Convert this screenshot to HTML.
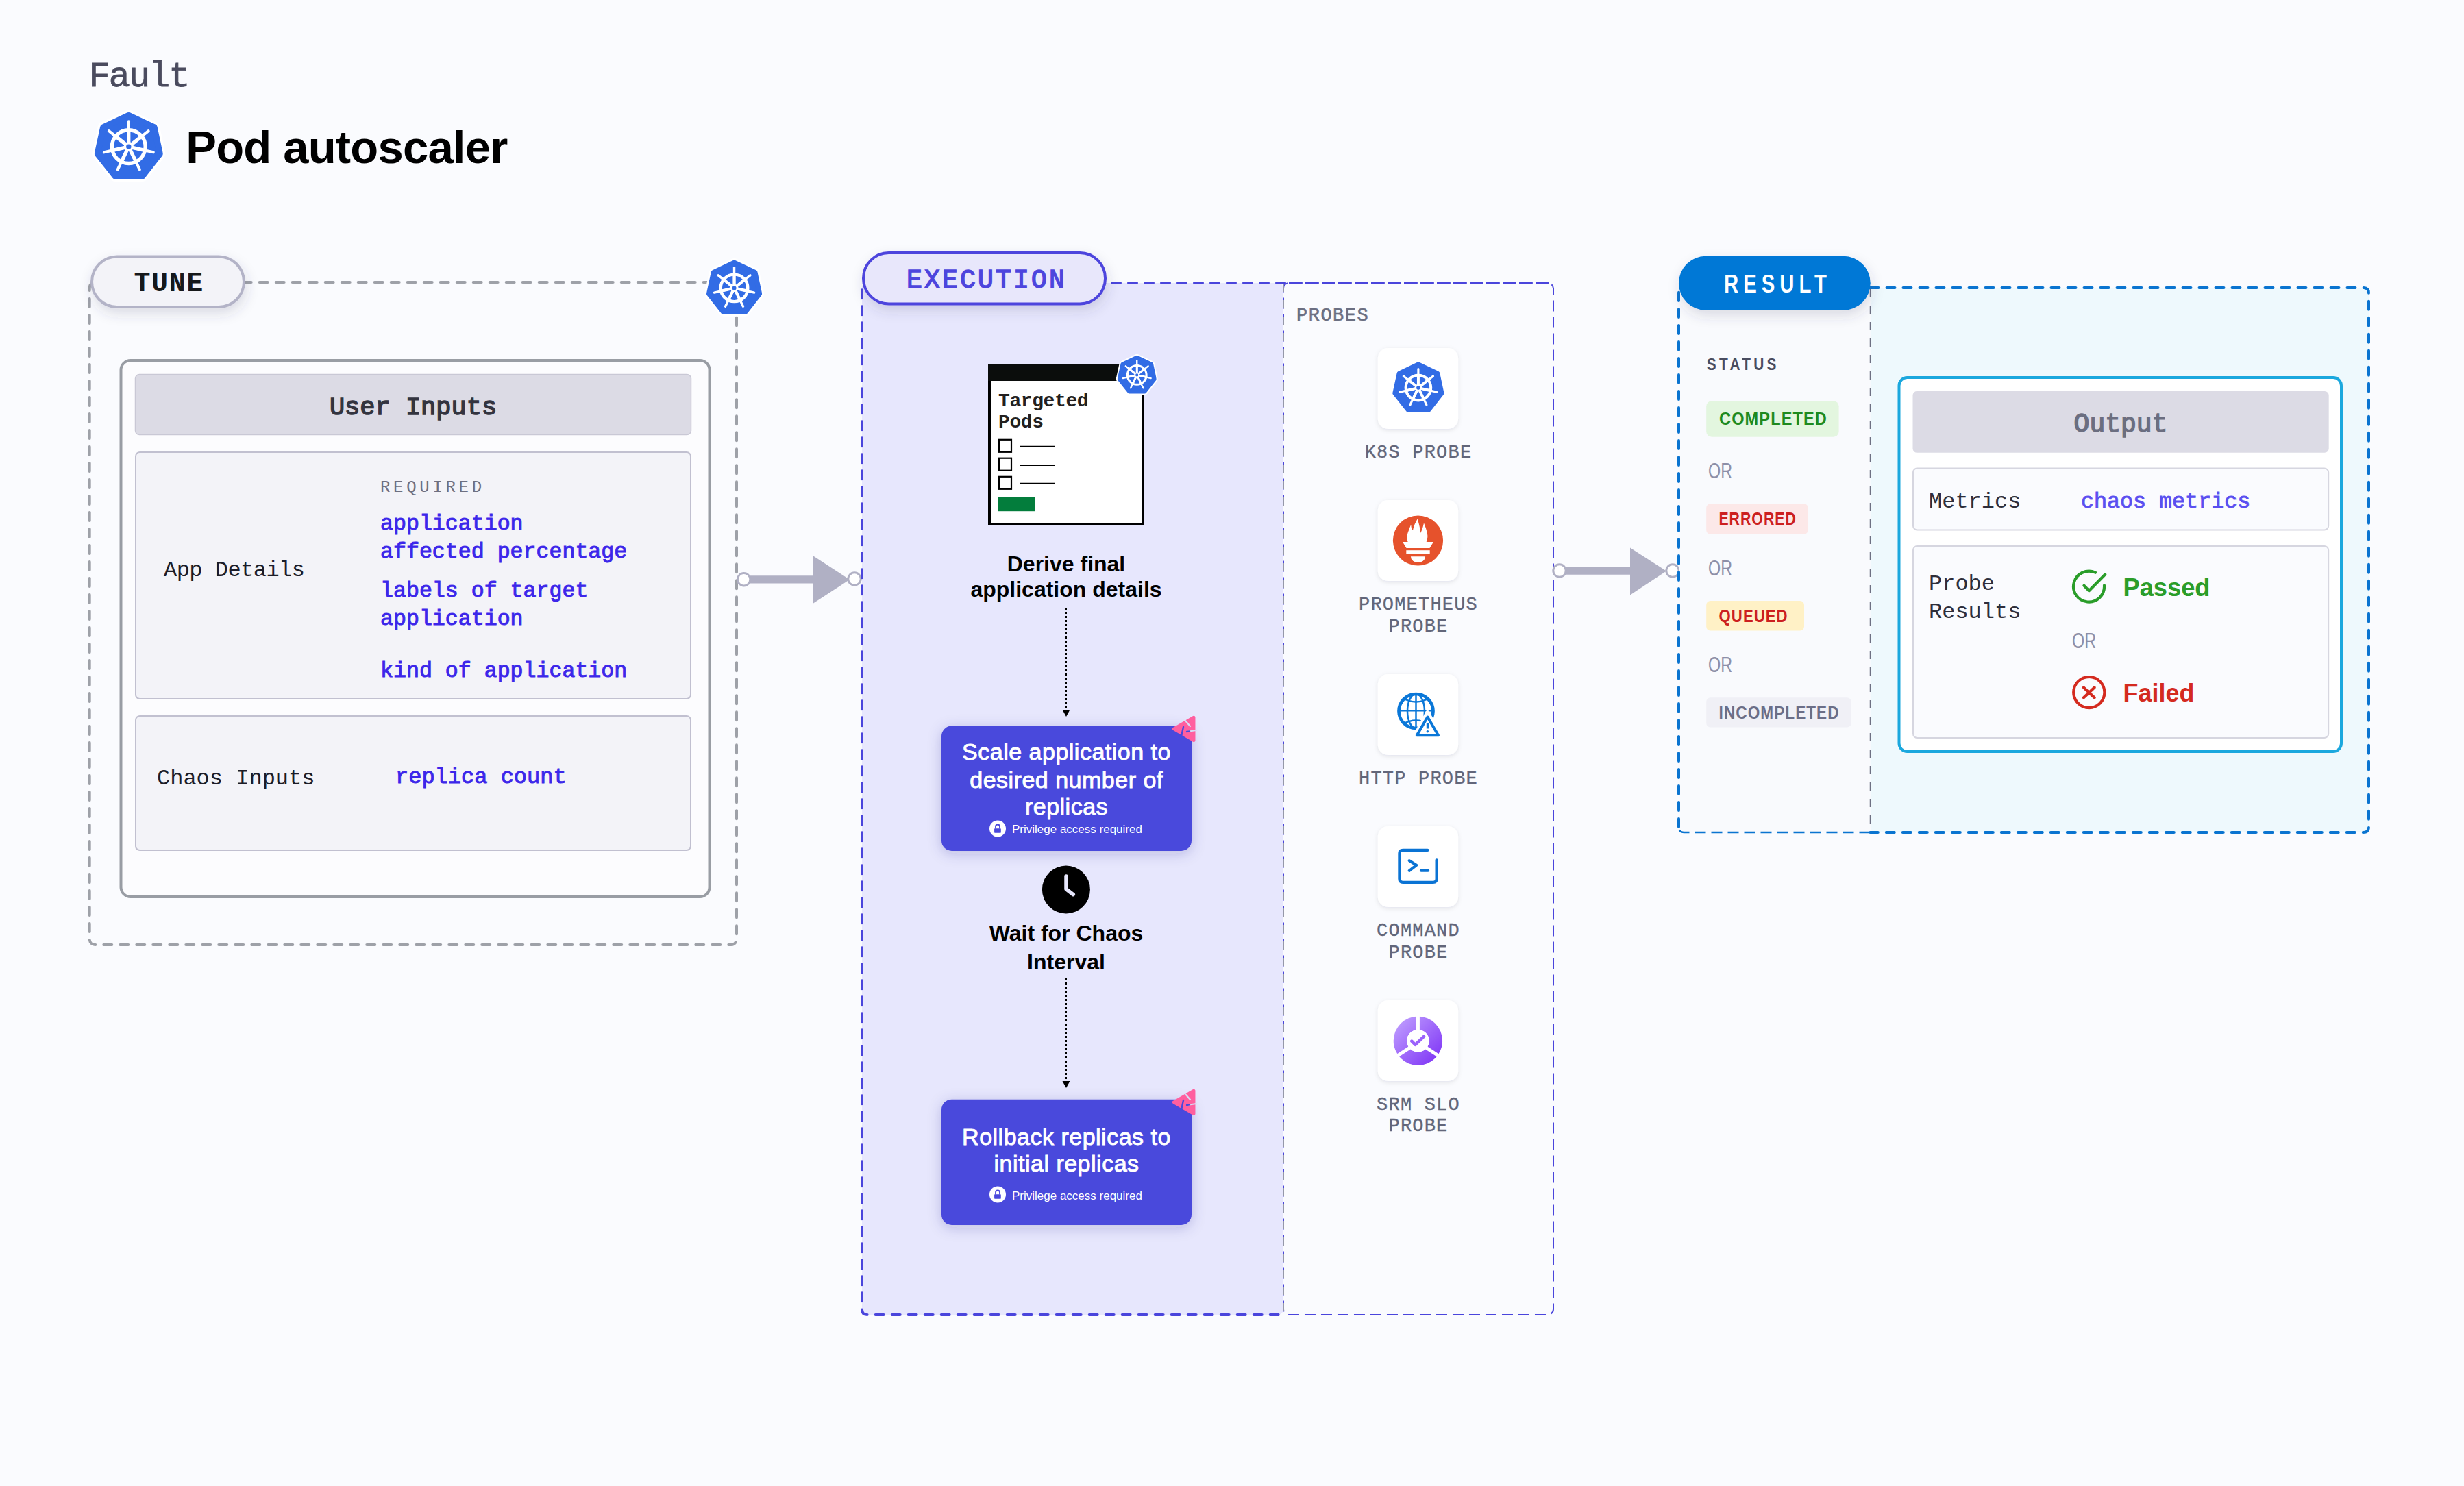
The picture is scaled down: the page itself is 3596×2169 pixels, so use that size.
<!DOCTYPE html>
<html><head><meta charset="utf-8">
<style>
html,body{margin:0;padding:0;background:#fafbfe;width:3596px;height:2169px;overflow:hidden}
svg{display:block}
.mono{font-family:"Liberation Mono",monospace}
.sans{font-family:"Liberation Sans",sans-serif}
</style></head>
<body>
<svg width="3596" height="2169" viewBox="0 0 3596 2169">
<defs>
  <symbol id="k8s" viewBox="0 0 100 100">
    <path d="M50.0,5.1 L87.4,22.6 L95.6,61.2 L70.0,93.8 L30.3,93.8 L4.4,61.2 L12.8,22.6 Z" fill="#326ce5" stroke="#326ce5" stroke-width="9" stroke-linejoin="round"/>
    <g stroke="#fff" stroke-linecap="round" fill="none">
      <circle cx="50" cy="50.8" r="24.4" stroke-width="5.4"/>
      <g stroke-width="4.2">
        <line x1="50" y1="50.8" x2="50" y2="14"/>
        <line x1="50" y1="50.8" x2="78.8" y2="27.9"/>
        <line x1="50" y1="50.8" x2="85.9" y2="59"/>
        <line x1="50" y1="50.8" x2="66" y2="84"/>
        <line x1="50" y1="50.8" x2="34" y2="84"/>
        <line x1="50" y1="50.8" x2="14.1" y2="59"/>
        <line x1="50" y1="50.8" x2="21.2" y2="27.9"/>
      </g>
      <g stroke-width="5.2">
        <line x1="50" y1="50.8" x2="50" y2="26"/>
        <line x1="50" y1="50.8" x2="69.4" y2="35.3"/>
        <line x1="50" y1="50.8" x2="74.2" y2="56.3"/>
        <line x1="50" y1="50.8" x2="60.8" y2="73.1"/>
        <line x1="50" y1="50.8" x2="39.2" y2="73.1"/>
        <line x1="50" y1="50.8" x2="25.8" y2="56.3"/>
        <line x1="50" y1="50.8" x2="30.6" y2="35.3"/>
      </g>
    </g>
    <circle cx="50" cy="50.8" r="7" fill="#fff"/>
    <circle cx="50" cy="50.8" r="3.7" fill="#326ce5"/>
  </symbol>

  <symbol id="k8sw" viewBox="-4 -4 108 108">
    <path d="M50.0,5.1 L87.4,22.6 L95.6,61.2 L70.0,93.8 L30.3,93.8 L4.4,61.2 L12.8,22.6 Z" fill="#fff" stroke="#fff" stroke-width="16" stroke-linejoin="round"/>
    <use href="#k8s" x="0" y="0" width="100" height="100"/>
  </symbol>
  <symbol id="chaos" viewBox="0 0 40 44">
    <path d="M4.9,21.9 L34.2,5 L34.2,38.8 Z" fill="#ff5f9f" stroke="#ff5f9f" stroke-width="4.5" stroke-linejoin="round"/>
    <path d="M22,10 L29,18" stroke="#d8dcf4" stroke-width="2.2" stroke-linecap="round"/>
    <path d="M19,19 L16,33" stroke="#4a48dc" stroke-width="2.4" stroke-linecap="round"/>
    <path d="M24,26 L38,24" stroke="#d8dcf4" stroke-width="2.2" stroke-linecap="round"/>
    <path d="M24,26 L28,25.4" stroke="#4a48dc" stroke-width="2.4" stroke-linecap="round"/>
  </symbol>
  <filter id="sh" x="-30%" y="-30%" width="160%" height="170%">
    <feDropShadow dx="2" dy="8" stdDeviation="9" flood-color="#3c3c64" flood-opacity="0.16"/>
  </filter>
  <filter id="sh2" x="-30%" y="-30%" width="160%" height="170%">
    <feDropShadow dx="0" dy="4" stdDeviation="10" flood-color="#2a2a80" flood-opacity="0.22"/>
  </filter>
  <filter id="sh3" x="-30%" y="-30%" width="160%" height="170%">
    <feDropShadow dx="0" dy="2" stdDeviation="3" flood-color="#202040" flood-opacity="0.10"/>
  </filter>
</defs>

<!-- ============ HEADER ============ -->
<text x="129.5" y="125.5" class="mono" font-size="52" fill="#4a4b5e" stroke="#4a4b5e" stroke-width="0.8" letter-spacing="-2">Fault</text>
<use href="#k8sw" x="132.8" y="159.3" width="110" height="108"/>
<text x="271.3" y="238" class="sans" font-weight="bold" font-size="67" fill="#000" letter-spacing="-0.8">Pod autoscaler</text>

<!-- ============ TUNE ============ -->
<rect x="130.7" y="412" width="944.3" height="967" rx="8" fill="none" stroke="#9ea1a8" stroke-width="4" stroke-dasharray="12 12" stroke-linecap="round"/>
<rect x="176.5" y="526" width="859" height="783" rx="14" fill="#fcfcfe" stroke="#999da4" stroke-width="4"/>
<rect x="197.5" y="546.5" width="811" height="88" rx="6" fill="#dcdbe5" stroke="#c9c8d5" stroke-width="1.5"/>
<text x="603" y="605" class="mono" font-size="37" fill="#33343f" stroke="#33343f" stroke-width="1.5" text-anchor="middle">User Inputs</text>
<rect x="198" y="660" width="810" height="360" rx="6" fill="#f3f3f8" stroke="#c1c0d0" stroke-width="2"/>
<text x="239" y="840.7" class="mono" font-size="32" fill="#1c1c28" textLength="206" lengthAdjust="spacing">App Details</text>
<text x="555" y="718.4" class="mono" font-size="24" fill="#6e6f80" letter-spacing="4.7">REQUIRED</text>
<g class="mono" font-size="31.6" fill="#3c26ea" stroke="#3c26ea" stroke-width="1">
  <text x="555" y="773.2">application</text>
  <text x="555" y="814.4">affected percentage</text>
  <text x="555" y="871.2">labels of target</text>
  <text x="555" y="912.4">application</text>
  <text x="555" y="988.1">kind of application</text>
</g>
<rect x="198" y="1045" width="810" height="196" rx="6" fill="#f3f3f8" stroke="#c1c0d0" stroke-width="2"/>
<text x="229" y="1145" class="mono" font-size="32" fill="#1c1c28">Chaos Inputs</text>
<text x="577" y="1143" class="mono" font-size="32" fill="#3c26ea" stroke="#3c26ea" stroke-width="1">replica count</text>

<rect x="134" y="374.5" width="222" height="73.5" rx="36.75" fill="#f3f3f8" stroke="#b3b3c7" stroke-width="4" filter="url(#sh)"/>
<text x="195.5" y="425.2" class="mono" font-weight="bold" font-size="40" fill="#16181a" letter-spacing="1.6">TUNE</text>
<use href="#k8sw" x="1027.8" y="376" width="87.5" height="87.5"/>

<!-- arrow 1 -->
<line x1="1086" y1="845.9" x2="1200" y2="845.9" stroke="#b0b0c4" stroke-width="11.4"/>
<path d="M1187,811.4 L1240,845.9 L1187,880.4 Z" fill="#b0b0c4"/>
<circle cx="1085.6" cy="845.8" r="9.2" fill="#fff" stroke="#b0b0c4" stroke-width="3"/>
<circle cx="1247" cy="845" r="9.2" fill="#fff" stroke="#b0b0c4" stroke-width="3"/>

<!-- ============ EXECUTION ============ -->
<rect x="1873" y="413" width="394" height="1506" rx="8" fill="#fafbfe" stroke="#4a45dc" stroke-width="2" stroke-dasharray="16 8"/>
<rect x="1258" y="413" width="615" height="1506" rx="8" fill="#e7e7fd" stroke="none"/>
<path d="M2259,413 L1266,413 Q1258,413 1258,421 L1258,1911 Q1258,1919 1266,1919 L1873,1919" fill="none" stroke="#4a45dc" stroke-width="4" stroke-dasharray="12 12" stroke-linecap="round"/>
<line x1="1873" y1="414" x2="1873" y2="1918" stroke="#9598a8" stroke-width="2" stroke-dasharray="12 12"/>

<rect x="1260" y="369" width="353" height="74.5" rx="37" fill="#e8e7fb" stroke="#4d45dd" stroke-width="4" filter="url(#sh)"/>
<text x="1323" y="419.9" class="mono" font-size="38" fill="#4d45dd" stroke="#4d45dd" stroke-width="1.5" letter-spacing="3.2">EXECUTION</text>


<!-- exec content -->
<g>
  <rect x="1444" y="533" width="224" height="232" fill="#fff" stroke="#000" stroke-width="4"/>
  <rect x="1442" y="531" width="228" height="25" fill="#0b0d0c"/>
  <text x="1457" y="592.7" class="mono" font-weight="bold" font-size="28" fill="#231f20" letter-spacing="-0.4">Targeted</text>
  <text x="1457" y="624" class="mono" font-weight="bold" font-size="28" fill="#231f20" letter-spacing="-0.4">Pods</text>
  <g fill="none" stroke="#000" stroke-width="2.2">
    <rect x="1458" y="641.8" width="18" height="18"/>
    <rect x="1458" y="668.7" width="18" height="18"/>
    <rect x="1458" y="695.8" width="18" height="18"/>
  </g>
  <g stroke="#000" stroke-width="1.8">
    <line x1="1488" y1="651.7" x2="1539.4" y2="651.7"/>
    <line x1="1488" y1="679" x2="1539.4" y2="679"/>
    <line x1="1488" y1="705.7" x2="1539.4" y2="705.7"/>
  </g>
  <rect x="1457" y="725.7" width="53.3" height="20.5" fill="#037d3c"/>
  <path d="M1659.2,518.5 L1688,531.6 L1694.4,561.2 L1674.8,586.3 L1644.2,586.3 L1624.4,561.2 L1631,531.6 Z" fill="#fff" stroke="#fff" stroke-width="4" stroke-linejoin="round" transform="translate(829.6,259.25) scale(0.5) translate(0,0)" style="display:none"/>
  <use href="#k8sw" x="1627.5" y="516.2" width="63.5" height="61.5"/>
</g>
<text x="1556" y="834.3" class="sans" font-weight="bold" font-size="32" fill="#000" text-anchor="middle">Derive final</text>
<text x="1556" y="870.5" class="sans" font-weight="bold" font-size="32" fill="#000" text-anchor="middle">application details</text>
<line x1="1556" y1="887" x2="1556" y2="1040" stroke="#000" stroke-width="2" stroke-dasharray="3 3"/>
<path d="M1550.5,1036 L1561.5,1036 L1556,1046 Z" fill="#000"/>

<rect x="1374" y="1059.5" width="365" height="182.5" rx="15" fill="#4a48dc" filter="url(#sh2)"/>
<g class="sans" font-size="34" fill="#fff" stroke="#fff" stroke-width="0.9" letter-spacing="0.5" text-anchor="middle">
  <text x="1556.5" y="1109">Scale application to</text>
  <text x="1556.5" y="1149.6">desired number of</text>
  <text x="1556.5" y="1188.7">replicas</text>
</g>
<circle cx="1456" cy="1209.5" r="12" fill="#fff"/>
<g fill="#4a48dc"><rect x="1451.1" y="1209.2" width="9.7" height="6.6" rx="0.8"/></g>
<path d="M1453,1209.5 L1453,1206.5 A3,3 0 0 1 1459,1206.5 L1459,1209.5" fill="none" stroke="#4a48dc" stroke-width="1.8"/>
<text x="1477" y="1216" class="sans" font-size="17" fill="#fff">Privilege access required</text>
<use href="#chaos" x="1708" y="1042" width="40" height="44"/>

<circle cx="1555.9" cy="1298.5" r="35" fill="#000"/>
<path d="M1556,1279 L1556,1297.8 L1566.3,1305.7" fill="none" stroke="#e7e7fd" stroke-width="5.5" stroke-linecap="round" stroke-linejoin="round"/>
<text x="1556" y="1372.8" class="sans" font-weight="bold" font-size="32" fill="#000" text-anchor="middle">Wait for Chaos</text>
<text x="1556" y="1415" class="sans" font-weight="bold" font-size="32" fill="#000" text-anchor="middle">Interval</text>
<line x1="1556" y1="1428" x2="1556" y2="1580" stroke="#000" stroke-width="2" stroke-dasharray="3 3"/>
<path d="M1550.5,1578 L1561.5,1578 L1556,1588 Z" fill="#000"/>

<rect x="1374" y="1604.7" width="365" height="183.3" rx="15" fill="#4a48dc" filter="url(#sh2)"/>
<g class="sans" font-size="34" fill="#fff" stroke="#fff" stroke-width="0.9" letter-spacing="0.5" text-anchor="middle">
  <text x="1556.5" y="1671">Rollback replicas to</text>
  <text x="1556.5" y="1710">initial replicas</text>
</g>
<circle cx="1456" cy="1743.5" r="12" fill="#fff"/>
<rect x="1451.1" y="1743.2" width="9.7" height="6.6" rx="0.8" fill="#4a48dc"/>
<path d="M1453,1743.5 L1453,1740.5 A3,3 0 0 1 1459,1740.5 L1459,1743.5" fill="none" stroke="#4a48dc" stroke-width="1.8"/>
<text x="1477" y="1750.5" class="sans" font-size="17" fill="#fff">Privilege access required</text>
<use href="#chaos" x="1708" y="1587" width="40" height="44"/>

<!-- probes -->
<text x="1892" y="467.8" class="mono" font-size="27" fill="#6b6f82" stroke="#6b6f82" stroke-width="0.6" letter-spacing="1.5">PROBES</text>
<g filter="url(#sh3)" fill="#fff">
  <rect x="2010.8" y="508" width="117.3" height="118" rx="15"/>
  <rect x="2010.8" y="730" width="117.3" height="118" rx="15"/>
  <rect x="2010.8" y="984" width="117.3" height="118" rx="15"/>
  <rect x="2010.8" y="1206" width="117.3" height="118" rx="15"/>
  <rect x="2010.8" y="1460" width="117.3" height="118" rx="15"/>
</g>
<use href="#k8s" x="2031.8" y="528" width="76.2" height="75"/>
<!-- prometheus -->
<g>
  <circle cx="2069.5" cy="789" r="36.6" fill="#e6522c"/>
  <path d="M2047,791 L2092,791 L2086.5,800 L2052.5,800 Z" fill="#fff"/>
  <rect x="2052.3" y="803.2" width="34.4" height="5.8" fill="#fff"/>
  <path d="M2058.9,812.3 L2080.1,812.3 A10.6,8.7 0 0 1 2058.9,812.3 Z" fill="#fff"/>
  <path d="M2056,793 C2052,788 2053,781 2056,774 C2057,771 2058,768 2059.3,766 C2059.5,770 2060,772 2062,774 C2063,768 2066,762 2068.8,757.2 C2070,762 2072,768 2073.4,778 C2075,774 2076.5,771 2078,763.5 C2080,768 2083,776 2083.4,782 C2083.6,787 2082,791 2080.5,793 Z" fill="#fff"/>
</g>
<!-- web probe icon -->
<g fill="none" stroke="#0a77d8">
  <circle cx="2066.5" cy="1038" r="25" stroke-width="4.7"/>
  <line x1="2066.5" y1="1013" x2="2066.5" y2="1063" stroke-width="2.5"/>
  <line x1="2041.5" y1="1037.2" x2="2091.5" y2="1037.2" stroke-width="2.5"/>
  <ellipse cx="2066.5" cy="1038" rx="12.5" ry="25" stroke-width="2.5"/>
  <path d="M2047,1019 Q2066.5,1030 2086,1019" stroke-width="2.5"/>
  <path d="M2047,1057 Q2066.5,1046 2086,1057" stroke-width="2.5"/>
</g>
<path d="M2083.4,1040 L2103,1076 L2064,1076 Z" fill="#fff" stroke="#fff" stroke-width="6" stroke-linejoin="round"/>
<path d="M2083.4,1046.5 L2099,1073.3 L2067.8,1073.3 Z" fill="#fff" stroke="#0a77d8" stroke-width="4" stroke-linejoin="round"/>
<line x1="2083.4" y1="1055" x2="2083.4" y2="1063.5" stroke="#0a77d8" stroke-width="3.2"/>
<circle cx="2083.4" cy="1067.8" r="1.8" fill="#0a77d8"/>
<!-- command -->
<g fill="none" stroke="#0a73d4" stroke-width="4.2" stroke-linecap="round" stroke-linejoin="round">
  <path d="M2083.4,1240.9 L2047.4,1240.9 Q2042.4,1240.9 2042.4,1245.9 L2042.4,1282.8 Q2042.4,1287.8 2047.4,1287.8 L2091.6,1287.8 Q2096.6,1287.8 2096.6,1282.8 L2096.6,1255.3"/>
  <path d="M2056.8,1256.2 L2067.1,1262.8 L2056.8,1270.8"/>
  <line x1="2074" y1="1270.7" x2="2084.1" y2="1270.7"/>
</g>
<!-- srm -->
<defs>
  <linearGradient id="srmg" x1="0" y1="0" x2="1" y2="1">
    <stop offset="0" stop-color="#c4a6ff"/>
    <stop offset="1" stop-color="#7a2cf5"/>
  </linearGradient>
</defs>
<g>
  <circle cx="2069.4" cy="1519.2" r="35.7" fill="url(#srmg)"/>
  <circle cx="2069.4" cy="1519.2" r="16.3" fill="#fff"/>
  <g stroke="#fff" stroke-width="5">
    <line x1="2069.4" y1="1519.2" x2="2069.4" y2="1480"/>
    <line x1="2069.4" y1="1521.5" x2="2032.5" y2="1545.5"/>
    <line x1="2069.4" y1="1521.5" x2="2106.3" y2="1545.5"/>
  </g>
  <circle cx="2069.4" cy="1519.2" r="16.3" fill="#fff"/>
  <path d="M2060.3,1519.7 L2065.5,1524.9 L2078,1512.9" fill="none" stroke="#9b62fb" stroke-width="4.5" stroke-linecap="round" stroke-linejoin="round"/>
</g>
<g class="mono" font-size="27" fill="#62667a" stroke="#62667a" stroke-width="0.35" text-anchor="middle" letter-spacing="1.2">
  <text x="2070" y="668">K8S PROBE</text>
  <text x="2070" y="889.5">PROMETHEUS</text>
  <text x="2070" y="922">PROBE</text>
  <text x="2070" y="1144">HTTP PROBE</text>
  <text x="2070" y="1366">COMMAND</text>
  <text x="2070" y="1397.6">PROBE</text>
  <text x="2070" y="1620">SRM SLO</text>
  <text x="2070" y="1651">PROBE</text>
</g>

<!-- arrow 2 -->
<line x1="2276" y1="833" x2="2390" y2="833" stroke="#b0b0c4" stroke-width="11.4"/>
<path d="M2379,799.4 L2432,833.5 L2379,868.5 Z" fill="#b0b0c4"/>
<circle cx="2276" cy="833" r="9.2" fill="#fff" stroke="#b0b0c4" stroke-width="3"/>
<circle cx="2441" cy="833" r="9.2" fill="#fff" stroke="#b0b0c4" stroke-width="3"/>

<!-- ============ RESULT ============ -->
<rect x="2729.5" y="420" width="727.5" height="795" rx="8" fill="#eef9fd"/>
<path d="M2729.5,420 L3449,420 Q3457,420 3457,428 L3457,1207 Q3457,1215 3449,1215 L2729.5,1215" fill="none" stroke="#0a74d0" stroke-width="4" stroke-dasharray="12 12" stroke-linecap="round"/>
<rect x="2450" y="420" width="279.5" height="795" rx="8" fill="#f9fafd" stroke="none"/>
<path d="M2729.5,1215 L2458,1215 Q2450,1215 2450,1207" fill="none" stroke="#0a74d0" stroke-width="2.5" stroke-dasharray="16 8"/>
<path d="M2450,1207 L2450,428 Q2450,420 2458,420 L2729.5,420" fill="none" stroke="#0a74d0" stroke-width="4" stroke-dasharray="12 12" stroke-linecap="round"/>
<line x1="2729.5" y1="422" x2="2729.5" y2="1213" stroke="#6e7183" stroke-width="1.5" stroke-dasharray="12 12"/>
<rect x="2450" y="373.8" width="279.7" height="78.9" rx="39.4" fill="#0278d6" filter="url(#sh)"/>
<text x="2516" y="427" class="sans" font-weight="bold" font-size="37.5" fill="#fff" letter-spacing="9" textLength="157" lengthAdjust="spacingAndGlyphs">RESULT</text>

<text x="2490.8" y="540" class="sans" font-weight="bold" font-size="24.4" fill="#4a4c5f" letter-spacing="5" textLength="106" lengthAdjust="spacingAndGlyphs">STATUS</text>
<rect x="2490.2" y="585.2" width="193.4" height="52.5" rx="8" fill="#e3f6df"/>
<text x="2509" y="620.2" class="sans" font-weight="bold" font-size="25.6" fill="#1e8a1e" letter-spacing="1.2" textLength="158" lengthAdjust="spacingAndGlyphs">COMPLETED</text>
<text x="2493" y="697.9" class="sans" font-size="32" fill="#8d8fa8" textLength="35" lengthAdjust="spacingAndGlyphs">OR</text>
<rect x="2490.2" y="735.3" width="148.6" height="44.4" rx="6" fill="#fce8e8"/>
<text x="2508.4" y="766.2" class="sans" font-weight="bold" font-size="25.6" fill="#cc2020" letter-spacing="1.2" textLength="113.5" lengthAdjust="spacingAndGlyphs">ERRORED</text>
<text x="2493" y="840.1" class="sans" font-size="32" fill="#8d8fa8" textLength="35" lengthAdjust="spacingAndGlyphs">OR</text>
<rect x="2490.2" y="876.9" width="142.8" height="43.7" rx="6" fill="#fff1c6"/>
<text x="2508.6" y="907.8" class="sans" font-weight="bold" font-size="25.6" fill="#cc2020" letter-spacing="1.2" textLength="101" lengthAdjust="spacingAndGlyphs">QUEUED</text>
<text x="2493" y="980.9" class="sans" font-size="32" fill="#8d8fa8" textLength="35" lengthAdjust="spacingAndGlyphs">OR</text>
<rect x="2490.2" y="1018.2" width="211.5" height="43.3" rx="6" fill="#f0f0f6"/>
<text x="2508.6" y="1048.7" class="sans" font-weight="bold" font-size="25.6" fill="#6b6e87" letter-spacing="1.2" textLength="176" lengthAdjust="spacingAndGlyphs">INCOMPLETED</text>

<!-- output card -->
<rect x="2771.5" y="551" width="645.5" height="546" rx="12" fill="#fff" stroke="#1ba8de" stroke-width="4"/>
<rect x="2791.5" y="571" width="607.2" height="89.8" rx="6" fill="#dcdbe5"/>
<text x="3095" y="630" class="mono" font-size="38" fill="#6b6e80" stroke="#6b6e80" stroke-width="1.5" text-anchor="middle">Output</text>
<rect x="2792" y="683.5" width="606.2" height="90" rx="6" fill="#fafbfe" stroke="#d6d6e0" stroke-width="2"/>
<text x="2815" y="740.8" class="mono" font-size="32" fill="#2e2e3a">Metrics</text>
<text x="3037" y="740.8" class="mono" font-size="31.7" fill="#5a4ff0" stroke="#5a4ff0" stroke-width="0.9">chaos metrics</text>
<rect x="2792" y="797" width="606.2" height="280" rx="6" fill="#fafbfe" stroke="#d6d6e0" stroke-width="2"/>
<text x="2815" y="861.4" class="mono" font-size="32" fill="#2e2e3a">Probe</text>
<text x="2815" y="902.2" class="mono" font-size="32" fill="#2e2e3a">Results</text>
<path d="M3058,835.7 A22.5,22.5 0 1 0 3071,854.5" fill="none" stroke="#2a9d2a" stroke-width="4.2" stroke-linecap="round"/>
<path d="M3041.5,854.8 L3048.8,862.2 L3072.2,838.5" fill="none" stroke="#2a9d2a" stroke-width="4.2" stroke-linecap="round" stroke-linejoin="round"/>
<text x="3098.5" y="870.3" class="sans" font-weight="bold" font-size="37" fill="#2a9d2a" textLength="127" lengthAdjust="spacingAndGlyphs">Passed</text>
<text x="3024" y="945.5" class="sans" font-size="32" fill="#8d8fa8" textLength="35" lengthAdjust="spacingAndGlyphs">OR</text>
<circle cx="3048.8" cy="1010.6" r="22.6" fill="none" stroke="#d42a1f" stroke-width="4.2"/>
<path d="M3041,1003.5 L3056.6,1018.3 M3056.6,1003.5 L3041,1018.3" fill="none" stroke="#d42a1f" stroke-width="4.2" stroke-linecap="round"/>
<text x="3098.5" y="1024" class="sans" font-weight="bold" font-size="37" fill="#d42a1f" textLength="104" lengthAdjust="spacingAndGlyphs">Failed</text>

</svg>
</body></html>
